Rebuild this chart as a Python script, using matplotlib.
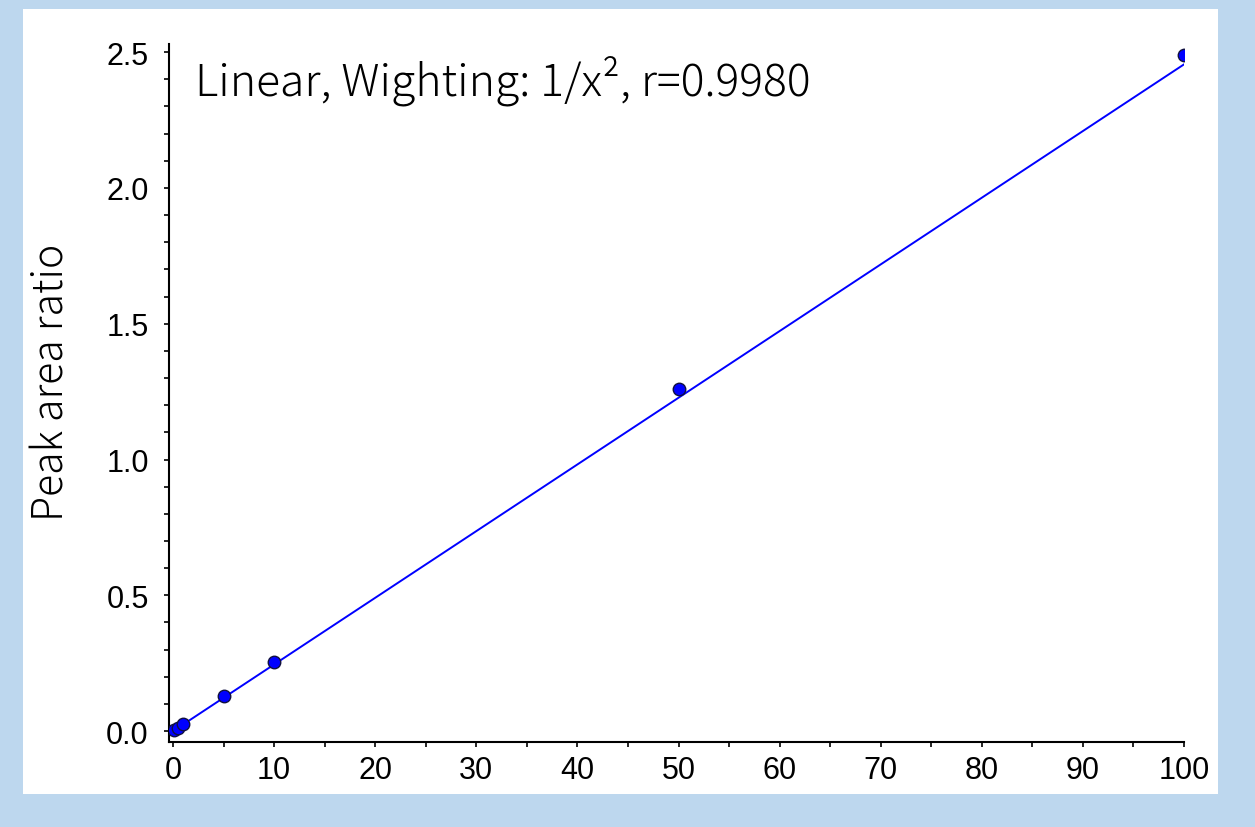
import matplotlib.pyplot as plt
from matplotlib.patches import Rectangle
from matplotlib.ticker import MultipleLocator

# calibration points (concentration vs peak area ratio)
conc = [0.1, 0.5, 1, 5, 10, 50, 100]
ratio = [0.0025, 0.0125, 0.025, 0.128, 0.253, 1.258, 2.49]

# fitted line end points
fit_x = [0, 100]
fit_y = [0.0, 2.455]

W, H = 1255, 828
fig = plt.figure(figsize=(W / 100, H / 100), dpi=100)
fig.patch.set_facecolor('#BDD7EE')
fig.patches.append(Rectangle((23 / W, 1 - 795 / H), 1195 / W, 785 / H,
                             transform=fig.transFigure, facecolor='white',
                             edgecolor='none', zorder=-10))

ax = fig.add_axes([169 / W, 1 - 743 / H, 1015 / W, (743 - 45) / H])
ax.set_facecolor('none')

ax.plot(fit_x, fit_y, color='#0000FF', linewidth=1.4, zorder=2)
ax.plot(conc, ratio, 'o', color='#0000FF', markersize=9,
        markeredgecolor='#101040', markeredgewidth=1.0, zorder=3)

ax.set_xlim(-0.4, 100)
ax.set_ylim(-0.04, 2.53)
ax.xaxis.set_major_locator(MultipleLocator(10))
ax.xaxis.set_minor_locator(MultipleLocator(5))
ax.yaxis.set_major_locator(MultipleLocator(0.5))
ax.yaxis.set_minor_locator(MultipleLocator(0.1))
ax.yaxis.set_major_formatter(plt.FuncFormatter(lambda v, p: f'{v:.1f}'))

for s in ['top', 'right']:
    ax.spines[s].set_visible(False)
for s in ['left', 'bottom']:
    ax.spines[s].set_linewidth(1.5)

ax.tick_params(which='both', direction='out', length=3.5, width=1.2,
               labelsize=22)
ax.tick_params(axis='y', pad=11)
ax.tick_params(axis='x', pad=6)
for lab in ax.get_xticklabels() + ax.get_yticklabels():
    lab.set_fontfamily('Liberation Sans')

ax.set_ylabel('Peak area ratio', fontsize=29.5, family=['Noto Sans CJK JP', 'DejaVu Sans'],
              fontweight='light')
ax.yaxis.set_label_coords(-0.094, 0.517)

ax.text(0.026, 0.985, 'Linear, Wighting: 1/x², r=0.9980', transform=ax.transAxes,
        fontsize=32, family=['Noto Sans CJK JP', 'DejaVu Sans'], fontweight='light',
        va='top', ha='left')

fig.savefig('out.png', dpi=100)
